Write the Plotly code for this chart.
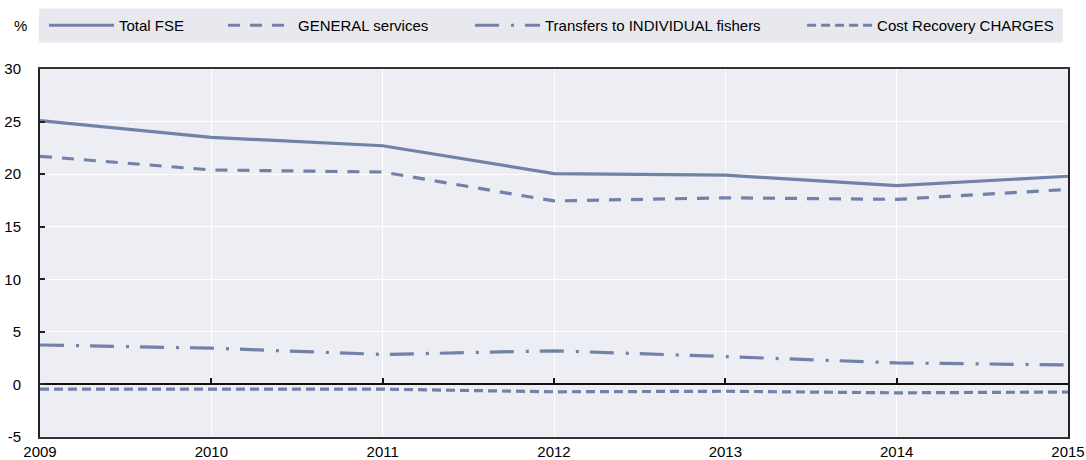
import plotly.graph_objects as go

years = [2009, 2010, 2011, 2012, 2013, 2014, 2015]
total_fse = [25.1, 23.5, 22.7, 20.05, 19.9, 18.9, 19.8]
general_services = [21.7, 20.4, 20.2, 17.45, 17.75, 17.6, 18.55]
transfers_individual = [3.75, 3.45, 2.85, 3.2, 2.65, 2.05, 1.85]
cost_recovery = [-0.45, -0.45, -0.45, -0.7, -0.65, -0.8, -0.72]

names = ["Total FSE", "GENERAL services", "Transfers to INDIVIDUAL fishers", "Cost Recovery CHARGES"]
y_ticks = [-5, 0, 5, 10, 15, 20, 25, 30]
y_tick_labels = ["-5", "0", "5", "10", "15", "20", "25", "30"]

COLOR = "#7181a8"
FONT = "Liberation Sans, Arial, sans-serif"

fig = go.Figure()
series = [total_fse, general_services, transfers_individual, cost_recovery]
dashes = ["solid", "12px,10px", "24px,12px,3px,11px", "9px,5px"]
legends = ["legend", "legend2", "legend3", "legend4"]
for name, vals, dash, lg in zip(names, series, dashes, legends):
    fig.add_trace(go.Scatter(
        x=years, y=vals, name=name, mode="lines", legend=lg,
        line=dict(color=COLOR, width=3.2, dash=dash),
    ))

# invisible trace on the second x axis anchored at y=0 for the zero line + ticks
fig.add_trace(go.Scatter(x=years, y=[0]*len(years), xaxis="x2", mode="lines",
                         line=dict(width=0), showlegend=False, hoverinfo="skip"))

# legend background
fig.add_shape(type="rect", xref="paper", yref="paper",
              x0=-0.001, x1=0.995, y0=1.072, y1=1.1644,
              fillcolor="#e8e9ef", line=dict(width=0), layer="below")

fig.add_annotation(text="%", xref="paper", yref="paper", x=-0.0268, y=1.117,
                   showarrow=False, font=dict(family=FONT, size=15, color="#000"),
                   xanchor="left", yanchor="middle")

leg_common = dict(orientation="h", y=1.1182, xanchor="left", yanchor="middle",
                  bgcolor="rgba(0,0,0,0)", font=dict(family=FONT, size=15, color="#000"),
                  itemwidth=65)
leg_x = [0.0039, 0.178, 0.4183, 0.7413]

fig.update_layout(
    width=1086, height=460,
    margin=dict(l=40, r=18, t=69, b=23, autoexpand=False),
    paper_bgcolor="white",
    plot_bgcolor="#edeef4",
    font=dict(family=FONT, size=15, color="#000"),
    showlegend=True,
    legend=dict(x=leg_x[0], **leg_common),
    legend2=dict(x=leg_x[1], **leg_common),
    legend3=dict(x=leg_x[2], **leg_common),
    legend4=dict(x=leg_x[3], **leg_common),
    xaxis=dict(range=[2009, 2015], tickvals=years, ticktext=[str(y) for y in years],
               showgrid=True, gridcolor="white", gridwidth=1.3,
               showline=True, linecolor="#333", linewidth=2, mirror=True,
               ticks="", zeroline=False, tickfont=dict(size=15), automargin=False),
    xaxis2=dict(range=[2009, 2015], tickvals=years, overlaying="x", anchor="free",
                position=5/35, showgrid=False, showline=True, linecolor="#111",
                linewidth=2, ticks="inside", ticklen=5, tickcolor="#111", tickwidth=1.5,
                showticklabels=False, zeroline=False, automargin=False),
    yaxis=dict(range=[-5, 30], tickvals=y_ticks, ticktext=y_tick_labels,
               showgrid=True, gridcolor="white",
               gridwidth=1.3, showline=True, linecolor="#222", linewidth=2, mirror=True,
               ticks="inside", ticklen=5, tickcolor="#222", tickwidth=1.5,
               zeroline=False, tickfont=dict(size=15), automargin=False,
               ticklabelstandoff=14),
)

fig.write_html("out.html", config={"displayModeBar": False},
               post_script="document.body.style.margin='0';")
